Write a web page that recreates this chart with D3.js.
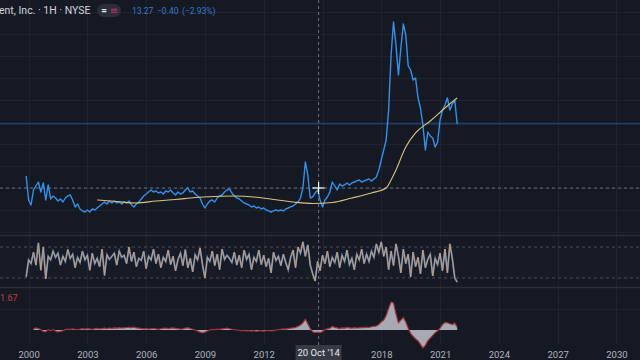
<!DOCTYPE html>
<html><head><meta charset="utf-8">
<script src="https://cdn.jsdelivr.net/npm/d3@7"></script>
<style>html,body{margin:0;padding:0;background:#151924;overflow:hidden}</style>
</head><body>
<svg id="c" width="640" height="360"></svg>
<script>
// ---------- data ----------
const headerTitle = "ent, Inc. · 1H · NYSE";
const quoteParts = ["13.27", "−0.40", "(−2.93%)"];
const startYear = 1999.875;   // first sample of the price / oscillator series
const stepYears = 0.125;      // sample spacing
const price = [
 6.75,3.75,3.13,5.00,5.50,6.00,4.75,5.88,3.75,5.63,3.88,4.25,4.00,3.63,3.88,3.50,4.00,4.25,4.38,3.75,
 2.88,3.25,2.63,2.38,2.25,2.50,2.25,2.63,2.50,2.75,3.00,3.25,3.50,3.25,3.63,3.38,3.63,3.38,3.50,3.25,
 3.50,3.38,3.63,3.13,2.88,3.25,3.50,3.88,4.25,4.50,4.75,5.00,4.75,4.88,4.63,4.75,4.50,4.88,4.75,5.00,
 4.63,4.38,4.75,4.50,4.63,5.00,5.25,4.75,4.88,4.50,4.25,4.00,3.25,2.75,3.25,3.63,3.75,3.50,4.00,4.25,
 4.38,4.75,5.00,5.13,4.63,4.25,4.00,3.88,3.63,3.38,3.25,3.13,2.88,3.00,2.75,2.88,2.63,2.75,2.50,2.38,
 2.25,2.38,2.50,2.38,2.50,2.38,2.63,2.75,2.88,3.00,3.25,3.50,4.00,5.25,8.50,6.88,4.00,4.13,4.63,5.00,
 3.75,2.88,3.75,4.13,4.75,6.00,5.50,5.00,5.75,5.50,5.63,5.88,5.63,5.88,6.00,6.13,6.25,6.00,6.13,6.25,
 6.38,6.13,6.38,6.63,7.50,8.75,10.00,11.25,15.00,21.88,26.00,23.13,19.38,22.75,25.75,24.38,20.50,20.00,18.75,19.00,
 16.50,15.25,13.13,10.00,12.25,11.75,11.50,10.38,11.00,13.75,15.00,15.63,16.50,15.00,15.75,16.25,13.25
];
const maYears = [2003.5,2004.5,2005.5,2006.5,2007.5,2008.5,2009.5,2010.5,2011.5,2012.5,2013.5,2014.5,
 2015.5,2016.5,2017.5,2018.25,2018.5,2018.75,2019.25,2019.75,2020.5,2021.25,2021.875];
const maValues = [3.75,3.56,3.38,3.63,3.81,4.06,4.19,4.25,4.13,3.81,3.50,3.31,
 3.44,4.00,4.63,5.25,6.25,7.50,10.38,12.13,13.63,15.25,16.50];
const oscillator = [
 22,55,48,70,45,88,35,80,
 18,62,55,72,60,68,45,62, 52,75,58,66,40,60,50,72, 55,64,35,68,48,58,42,76,
 25,65,56,62,68,45,72,60, 64,48,80,52,70,42,58,54, 72,38,62,55,76,48,66,40,
 60,52,74,46,62,34,56,68, 44,75,40,58,32,65,55,78, 46,20,60,52,72,44,66,36,
 76,56,64,58,50,70,45,64, 40,74,56,66,36,60,52,74, 46,64,42,58,30,70,54,62,
 44,66,50,36,60,74,40,80, 68,90,62,84,45,28,14,52, 34,64,48,72,42,60,50,70,
 40,64,52,74,46,58,36,66, 55,76,48,66,52,72,60,86, 70,90,62,80,36,72,44,86,
 62,30,76,48,66,22,70,42, 60,28,74,40,56,66,24,58, 46,68,34,76,30,86,58,20,
 12
];
const oscBands = [80, 20];
const momentumStart = 2000.25;
const momentum = [
 0.05,0.12,0.08,0.02,-0.08,
 -0.10,0.02,-0.05,0.03,-0.06,-0.10,-0.08,-0.04,
 0.02,0.05,0.03,0.06,0.04,0.02,0.05,0.07,
 0.05,0.08,0.06,0.04,0.07,0.09,0.06,0.08,
 0.10,0.08,0.11,0.09,0.12,0.10,0.13,0.11,
 0.12,0.14,0.15,0.13,0.16,0.12,0.10,0.08,
 0.06,0.08,0.05,0.07,0.09,0.06,0.04,0.07,
 0.09,0.11,0.08,0.10,0.12,0.09,0.07,0.05,
 0.06,0.10,0.13,0.08,0.04,0.00,-0.06,-0.12,
 -0.16,-0.12,-0.06,0.00,0.03,0.02,0.05,0.04,
 0.06,0.08,0.10,0.07,0.04,0.02,0.00,-0.02,
 -0.04,-0.02,-0.05,-0.03,-0.06,-0.04,-0.07,-0.05,
 -0.03,-0.06,-0.04,-0.02,-0.05,-0.03,0.00,0.02,
 0.04,0.06,0.05,0.08,0.10,0.12,0.15,0.20,
 0.28,0.40,0.60,0.35,0.08,-0.10,-0.15,-0.12,
 -0.15,-0.08,0.02,0.06,0.10,0.20,0.15,0.12,
 0.08,0.12,0.10,0.14,0.12,0.10,0.13,0.11,
 0.12,0.15,0.13,0.16,0.14,0.18,0.20,0.22,
 0.30,0.45,0.55,0.80,1.20,1.55,1.50,0.90,
 0.40,0.55,0.70,0.45,0.10,-0.20,-0.35,-0.50,
 -0.60,-0.80,-1.00,-0.85,-0.60,-0.45,-0.30,-0.15,
 -0.05,0.10,0.30,0.42,0.40,0.35,0.30,0.38,
 0.15
];
const momentumLabel = "1.67";
const timeTicks = [2000,2003,2006,2009,2012,2015,2018,2021,2024,2027,2030];
const tickLabels = ["2000","2003","2006","2009","2012","2015","2018","2021","2024","2027","2030"];
const gridPrices = [-0.25,2.5,5.25,8,10.75,13.5,16.25,19,21.75,24.5,27.25];
const lastPrice = 13.27;
const crossYear = 2014.8, crossPrice = 5.25, crossLabel = "20 Oct '14";

// ---------- scales ----------
const W = 640, H = 360;
const x = d3.scaleLinear().domain([2000, 2030]).range([28.6, 616.4]);
const yP = d3.scaleLinear().domain([0, 28.75]).range([230, 0]);
const yO = d3.scaleLinear().domain([0, 100]).range([288.3, 236.7]);
const yM = d3.scaleLinear().domain([0, 1]).range([330, 312]);

const svg = d3.select("#c");
svg.append("rect").attr("width", W).attr("height", H).attr("fill", "#151924");

// grid
const grid = svg.append("g").attr("stroke", "#1f2330").attr("stroke-width", 1);
grid.selectAll("line.v").data(timeTicks).join("line")
  .attr("x1", d => Math.round(x(d)) + 0.5).attr("x2", d => Math.round(x(d)) + 0.5)
  .attr("y1", 0).attr("y2", 344);
grid.selectAll("line.h").data(gridPrices).join("line")
  .attr("x1", 0).attr("x2", W)
  .attr("y1", d => Math.round(yP(d)) + 0.5).attr("y2", d => Math.round(yP(d)) + 0.5);
grid.append("line").attr("x1", 0).attr("x2", W).attr("y1", 309.5).attr("y2", 309.5);

// oscillator band
svg.append("rect").attr("x", 0).attr("width", W)
  .attr("y", yO(oscBands[0])).attr("height", yO(oscBands[1]) - yO(oscBands[0]))
  .attr("fill", "#ffffff").attr("opacity", 0.012);
svg.selectAll("line.band").data(oscBands).join("line")
  .attr("x1", 0).attr("x2", W)
  .attr("y1", d => yO(d)).attr("y2", d => yO(d))
  .attr("stroke", "#4a4e5a").attr("stroke-dasharray", "3,3").attr("stroke-width", 1);

// pane separators
svg.selectAll("line.sep").data([235.5, 287.5]).join("line")
  .attr("x1", 0).attr("x2", W).attr("y1", d => d).attr("y2", d => d)
  .attr("stroke", "#2a2e39").attr("stroke-width", 1.5);

// last price line
svg.append("line").attr("x1", 0).attr("x2", W)
  .attr("y1", yP(lastPrice)).attr("y2", yP(lastPrice))
  .attr("stroke", "#2962a8").attr("stroke-width", 1).attr("opacity", 0.8);

// crosshair lines
const cx = x(crossYear), cy = yP(crossPrice);
svg.append("line").attr("x1", cx).attr("x2", cx).attr("y1", 0).attr("y2", 346)
  .attr("stroke", "#6b6f7b").attr("stroke-dasharray", "3,3");
svg.append("line").attr("x1", 0).attr("x2", W).attr("y1", cy).attr("y2", cy)
  .attr("stroke", "#6b6f7b").attr("stroke-dasharray", "3,3");

// price line
const priceLine = d3.line().x((d, i) => x(startYear + i * stepYears)).y(d => yP(d));
svg.append("path").datum(price).attr("d", priceLine)
  .attr("fill", "none").attr("stroke", "#3590e8").attr("stroke-width", 1.4).attr("stroke-linejoin", "round");

// moving average
const maLine = d3.line().x((d, i) => x(maYears[i])).y(d => yP(d)).curve(d3.curveMonotoneX);
svg.append("path").datum(maValues).attr("d", maLine)
  .attr("fill", "none").attr("stroke", "#dcc27e").attr("stroke-width", 1.1);

// oscillator
const oscLine = d3.line().x((d, i) => x(startYear + i * stepYears)).y(d => yO(d));
svg.append("path").datum(oscillator).attr("d", oscLine)
  .attr("fill", "none").attr("stroke", "#4a84c4").attr("stroke-width", 1.8);
svg.append("path").datum(oscillator).attr("d", oscLine)
  .attr("fill", "none").attr("stroke", "#cf9a6c").attr("stroke-width", 1);

// momentum area
const mx = (d, i) => x(momentumStart + i * stepYears);
svg.append("path").datum(momentum)
  .attr("d", d3.area().x(mx).y0(yM(0)).y1(d => yM(d)))
  .attr("fill", "#c2c4cc").attr("opacity", 0.85);
svg.append("path").datum(momentum)
  .attr("d", d3.line().x(mx).y(d => yM(d)))
  .attr("fill", "none").attr("stroke", "#a3303a").attr("stroke-width", 1.2);
svg.append("text").attr("x", 0).attr("y", 301).text(momentumLabel)
  .attr("fill", "#c83a44").attr("font-family", "Roboto, sans-serif").attr("font-size", 9);

// time axis (labels under the crosshair label are hidden, as in the reference)
const cx0 = x(crossYear);
const axis = d3.axisBottom(x).tickValues(timeTicks.filter(t => Math.abs(x(t) - cx0) > 30))
  .tickFormat(d => tickLabels[timeTicks.indexOf(d)]).tickSize(0).tickPadding(2);
const ga = svg.append("g").attr("transform", "translate(0,349)").call(axis);
ga.select(".domain").remove();
ga.selectAll("text").attr("fill", "#b2b5be").attr("font-size", 9.5)
  .attr("font-family", "Roboto, sans-serif");

// crosshair time label
const lw = 46;
svg.append("rect").attr("x", cx - lw / 2).attr("y", 345).attr("width", lw).attr("height", 15)
  .attr("fill", "#363a45");
svg.append("text").attr("x", cx).attr("y", 356).attr("text-anchor", "middle")
  .text(crossLabel).attr("fill", "#e6e8ee").attr("font-size", 9.5)
  .attr("font-family", "Roboto, sans-serif");

// cursor cross
svg.append("g").attr("stroke", "#ffffff").attr("stroke-width", 1.2)
  .call(g => {
    g.append("line").attr("x1", cx - 6).attr("x2", cx + 6).attr("y1", cy).attr("y2", cy);
    g.append("line").attr("x1", cx).attr("x2", cx).attr("y1", cy - 6).attr("y2", cy + 6);
  });

// header
svg.append("text").attr("x", -1).attr("y", 14).text(headerTitle)
  .attr("fill", "#d1d4dc").attr("font-size", 10.5).attr("font-family", "Roboto, sans-serif");
svg.append("rect").attr("x", 97).attr("y", 4).attr("width", 24).attr("height", 13).attr("rx", 6.5)
  .attr("fill", "#2a2e39");
svg.append("text").attr("x", 104).attr("y", 14).attr("text-anchor", "middle").text("=")
  .attr("fill", "#e0e3eb").attr("font-size", 10).attr("font-weight", "bold").attr("font-family", "Roboto, sans-serif");
svg.append("text").attr("x", 114).attr("y", 14).attr("text-anchor", "middle").text("≡")
  .attr("fill", "#c2306a").attr("font-size", 10).attr("font-family", "DejaVu Sans, sans-serif");
const qx = [132, 157, 182];
svg.selectAll("text.q").data(quoteParts).join("text")
  .attr("x", (d, i) => qx[i]).attr("y", 14).text(d => d)
  .attr("fill", "#3a78cc").attr("font-size", 8.5).attr("font-family", "Roboto, sans-serif");
</script>
</body></html>
